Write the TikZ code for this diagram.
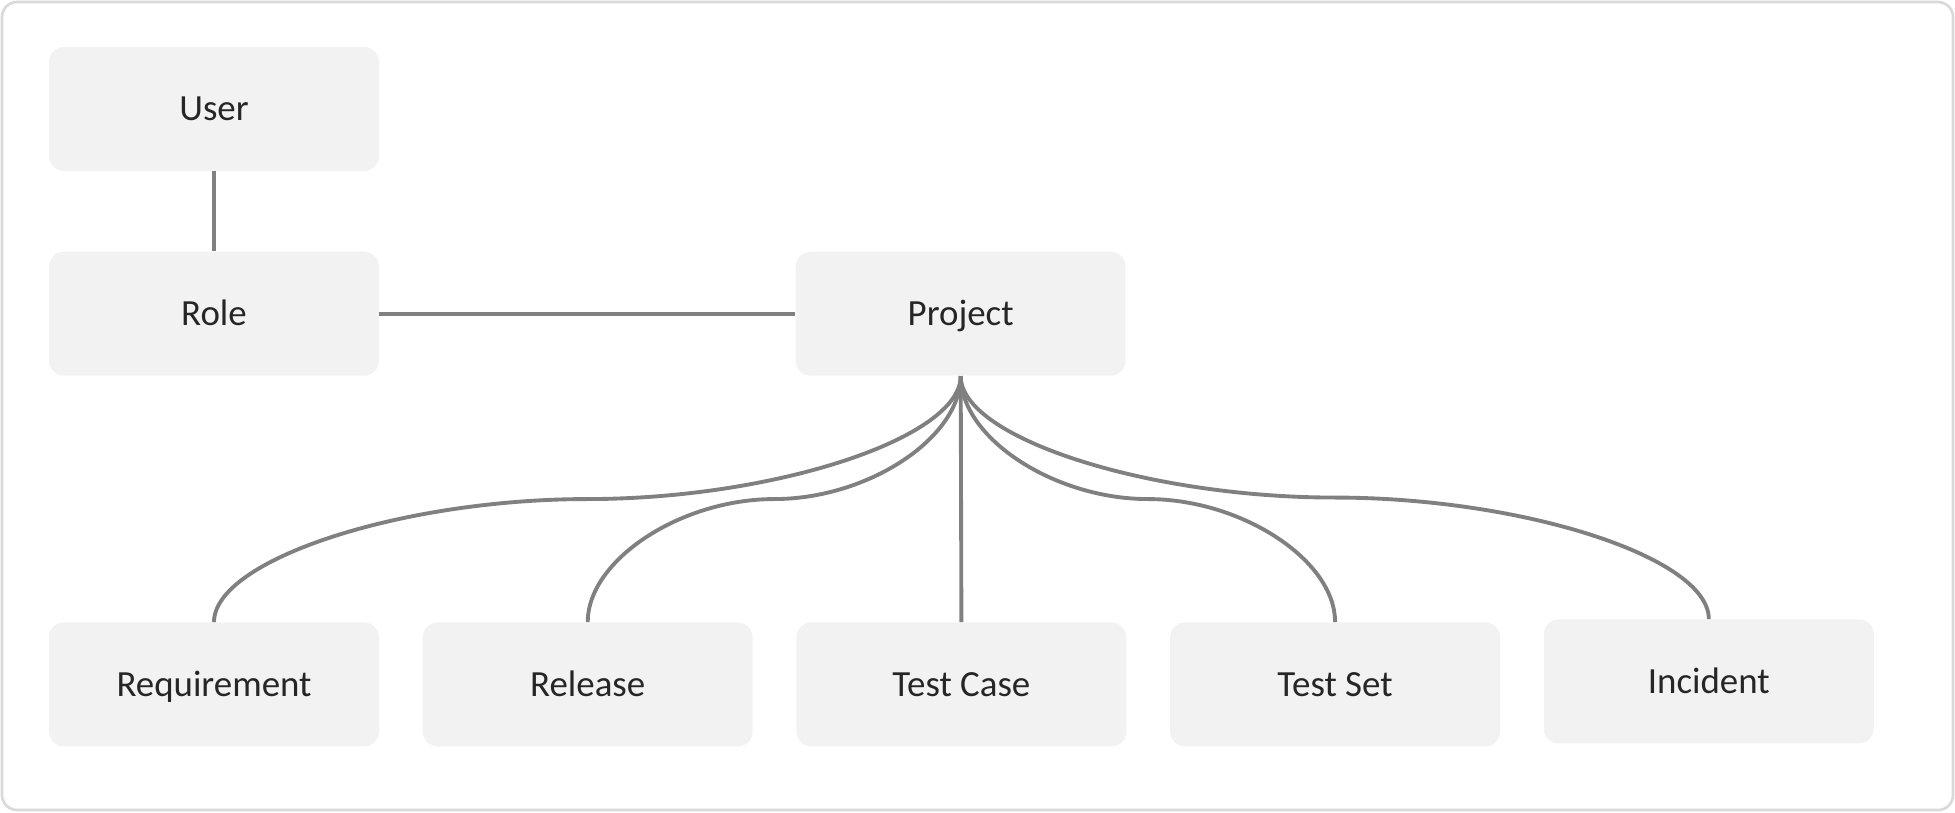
\documentclass[tikz,border=0pt]{standalone}
\usepackage{fontspec}
\setmainfont{Carlito}
\usepackage{tikz}
\usetikzlibrary{positioning,calc}

\definecolor{boxfill}{HTML}{F2F2F2}
\definecolor{linkgray}{HTML}{808080}
\definecolor{framegray}{HTML}{D9D9D9}
\definecolor{textdark}{HTML}{262626}

\begin{document}
\begin{tikzpicture}[
		every node/.append style={font=\fontsize{21}{25}\selectfont, text=textdark}
		,entity/.style={fill=boxfill, rounded corners=0.3cm, minimum width=6.6cm, minimum height=2.48cm, inner sep=0pt, text height=13.5pt, text depth=0pt}
		,link/.style={draw=linkgray, line width=2.2pt}
		,node distance=1.6cm
	]
		\useasboundingbox (0,0) rectangle (39.1,-16.24);
		\draw [framegray, line width=1.5pt, rounded corners=0.3cm] (0.04,-0.04) rectangle (39.06,-16.2);

		\node [entity] (U) at (4.28,-2.18) {User};
		\node [entity, below=of U] (R) {Role};
		\node [entity, right=8.32cm of R] (P) {Project};

		\node [entity, below=4.92cm of R] (Rq) {Requirement};
		\node [entity, right=0.86cm of Rq] (Rel) {Release};
		\node [entity, right=0.86cm of Rel] (TC) {Test Case};
		\node [entity, right=0.86cm of TC] (TS) {Test Set};
		\node [entity, right=0.86cm of TS, yshift=0.06cm] (I) {Incident};

		\draw [link] (U) -- (R);
		\draw [link] (R) -- (P);

		\draw [link] (P.south) .. controls +(0,-1.24) and +(3.73,0) .. ($(P.south)!.5!(Rq.north)$)
			.. controls +(-3.73,0) and +(0,1.24) .. (Rq.north);
		\draw [link] (P.south) .. controls +(0,-1.24) and +(1.87,0) .. ($(P.south)!.5!(Rel.north)$)
			.. controls +(-1.87,0) and +(0,1.24) .. (Rel.north);
		\draw [link] (P.south) -- (TC.north);
		\draw [link] (P.south) .. controls +(0,-1.24) and +(-1.87,0) .. ($(P.south)!.5!(TS.north)$)
			.. controls +(1.87,0) and +(0,1.24) .. (TS.north);
		\draw [link] (P.south) .. controls +(0,-1.24) and +(-3.73,0) .. ($(P.south)!.5!(I.north)$)
			.. controls +(3.73,0) and +(0,1.24) .. (I.north);
	\end{tikzpicture}
\end{document}
